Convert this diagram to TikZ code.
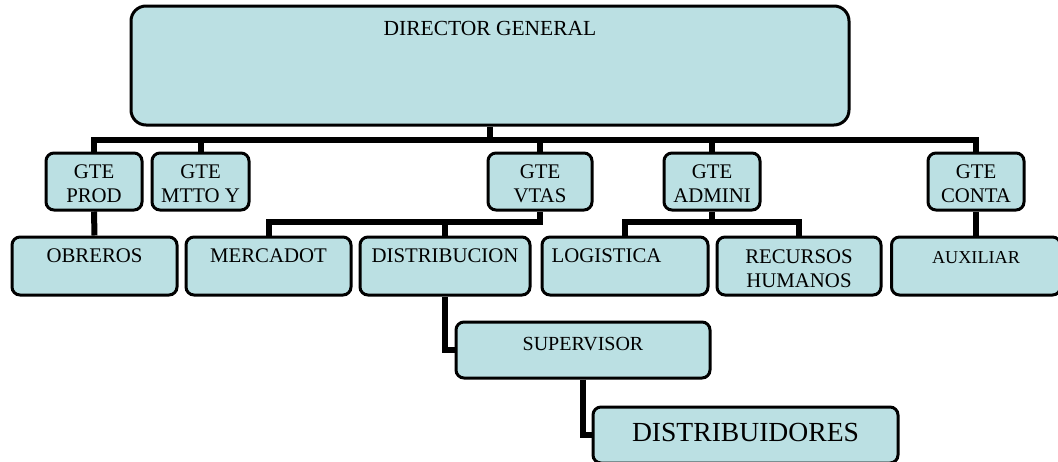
\documentclass[tikz,border=0pt]{standalone}
\usepackage{fontspec}
\setmainfont{Liberation Serif}
\definecolor{boxfill}{HTML}{BBE0E3}
\begin{document}
\begin{tikzpicture}[x=1pt,y=-1pt,
  box/.style={draw=black, line width=3pt, fill=boxfill, rounded corners=8pt, inner sep=0pt, minimum height=57pt},
  conn/.style={draw=black, line width=6pt},
  lbl/.style={anchor=north, inner sep=0pt, align=center, font=\fontsize{20.8}{24}\selectfont},
]
\useasboundingbox (0,0) rectangle (1058,461);
\clip (0,0) rectangle (1058,461);

% top
\node[box, rounded corners=15pt, minimum width=718pt, minimum height=119pt,
  label={[lbl, font=\fontsize{21.5}{24}\selectfont, yshift=-17pt]north:DIRECTOR GENERAL}] (dir) at (490,65.5) {};

% level 2
\node[box, minimum width=96pt, label={[lbl, yshift=-13pt]north:GTE\\PROD}] (prod) at (94,181.5) {};
\node[box, minimum width=97pt, label={[lbl, yshift=-13pt]north:GTE\\MTTO Y}] (mtto) at (200.5,181.5) {};
\node[box, minimum width=104pt, label={[lbl, yshift=-13pt]north:GTE\\VTAS}] (vtas) at (540,181.5) {};
\node[box, minimum width=96pt, label={[lbl, yshift=-13pt]north:GTE\\ADMINI}] (admini) at (712,181.5) {};
\node[box, minimum width=96pt, label={[lbl, yshift=-13pt]north:GTE\\CONTA}] (conta) at (976,181.5) {};

% level 3
\node[box, minimum width=165pt, minimum height=58pt, label={[lbl, yshift=-13pt]north:OBREROS}] (obr) at (94.5,266) {};
\node[box, minimum width=165pt, minimum height=58pt, label={[lbl, yshift=-13pt]north:MERCADOT}] (merc) at (268.5,266) {};
\node[box, minimum width=170pt, minimum height=58pt, label={[lbl, yshift=-13pt]north:DISTRIBUCION}] (dist) at (445,266) {};
\node[box, minimum width=166pt, minimum height=58pt, label={[lbl, anchor=north west, xshift=11pt, yshift=-13pt]north west:LOGISTICA}] (log) at (625,266) {};
\node[box, minimum width=164pt, minimum height=58pt, label={[lbl, yshift=-14pt]north:RECURSOS\\HUMANOS}] (rec) at (799,266) {};
\node[box, minimum width=169pt, minimum height=58pt, label={[lbl, font=\fontsize{18.2}{20}\selectfont, yshift=-16pt]north:AUXILIAR}] (aux) at (976,266) {};

% level 4, 5
\node[box, minimum width=254pt, minimum height=56pt, label={[lbl, font=\fontsize{20}{22}\selectfont, yshift=-17pt]north:SUPERVISOR}] (sup) at (583,350) {};
\node[box, minimum width=305pt, minimum height=56pt, label={[lbl, font=\fontsize{27.6}{30}\selectfont, yshift=-18pt]north:DISTRIBUIDORES}] (dr) at (745.5,435) {};

% connectors
\coordinate (bus) at (0,140);
\coordinate (busb) at (0,222);
\draw[conn] (dir.south) -- (dir.south |- bus);
\draw[conn] (prod.north) -- (prod.north |- bus) -| (conta.north);
\draw[conn] (mtto.north) -- (mtto.north |- bus);
\draw[conn] (vtas.north) -- (vtas.north |- bus);
\draw[conn] (admini.north) -- (admini.north |- bus);

\draw[conn] (prod.south) -- (obr.north);
\draw[conn] (merc.north) -- (merc.north |- busb) -| (vtas.south);
\draw[conn] (dist.north) -- (dist.north |- busb);
\draw[conn] (log.north) -- (log.north |- busb) -| (rec.north);
\draw[conn] (admini.south) -- (admini.south |- busb);
\draw[conn] (conta.south) -- (aux.north);

\draw[conn] (dist.south) |- (sup.west);
\draw[conn] (sup.south) |- (dr.west);
\end{tikzpicture}
\end{document}
